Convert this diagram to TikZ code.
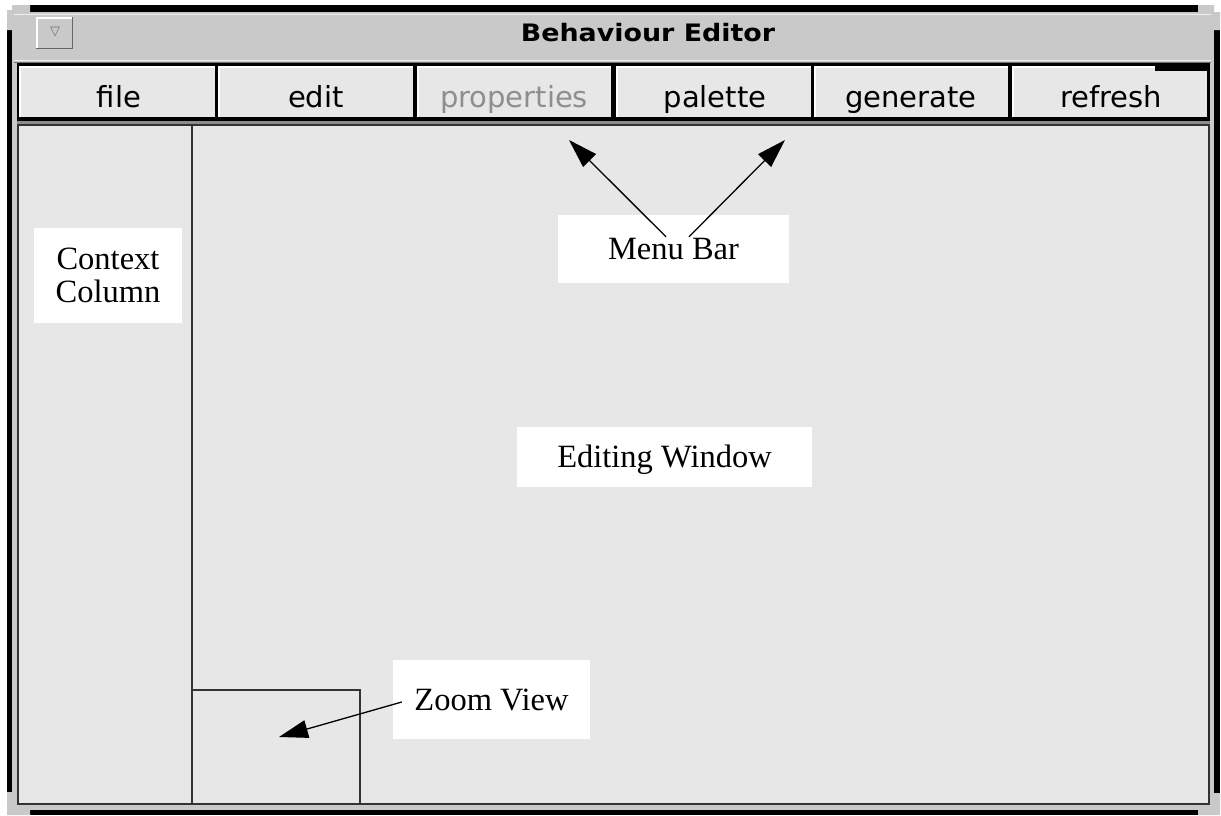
\documentclass[tikz,border=0pt]{standalone}
\usepackage{fontspec}
\setmainfont{Liberation Serif}
\newfontfamily\uifont{DejaVu Sans}
\usetikzlibrary{arrows.meta}
\definecolor{panel}{HTML}{E7E7E7}
\definecolor{chrome}{HTML}{C9C9C9}
\definecolor{edge}{HTML}{333333}
\definecolor{dimtext}{HTML}{8E8E8E}
\tikzset{
  labelbox/.style={fill=white, inner sep=0pt, align=center,
    font=\fontsize{32.5}{33}\selectfont},
  menutext/.style={anchor=base, inner sep=0pt,
    font=\uifont\fontsize{29}{30}\selectfont},
  pointer/.style={line width=1.3pt, -{Triangle[length=29pt,width=18pt]}},
  divider/.style={line width=2pt, edge},
}
\begin{document}
\begin{tikzpicture}[x=1pt,y=-1pt]
\useasboundingbox (0,0) rectangle (1221,815);
\fill[white] (0,0) rectangle (1221,815);

% window frame: black bands and grey corner pieces
\fill[black] (30,5) rectangle (1198,12);
\fill[black] (30,810) rectangle (1198,815);
\fill[black] (7,30) rectangle (12,792);
\fill[black] (1214,30) rectangle (1220,793);
\fill[chrome] (7,30) -- (7,10) -- (12,10) -- (12,5) -- (30,5) -- (30,12) -- (12,12) -- (12,30) -- cycle;
\fill[chrome] (1198,5) -- (1214,5) -- (1214,12) -- (1220,12) -- (1220,30) -- (1214,30) -- (1214,12) -- (1198,12) -- cycle;
\fill[chrome] (7,792) -- (12,792) -- (12,810) -- (30,810) -- (30,815) -- (7,815) -- cycle;
\fill[chrome] (1214,793) -- (1220,793) -- (1220,815) -- (1198,815) -- (1198,810) -- (1214,810) -- cycle;

% window body and title bar
\fill[chrome] (12,12) rectangle (1214,810);
\draw[white!70!chrome, line width=1.5pt] (14,14.5) -- (1211,14.5);
\draw[white!70!chrome, line width=1.5pt] (14,60.5) -- (1211,60.5);
\draw[black!55, line width=1pt] (14,62.5) -- (1211,62.5);

% window menu button
\fill[chrome] (36,17) rectangle (73,49);
\draw[white, line width=1.5pt] (36.75,49) -- (36.75,17.75) -- (73,17.75);
\draw[black!60, line width=1.5pt] (36,48.25) -- (72.25,48.25) -- (72.25,17);
\node[inner sep=0pt, font=\uifont\fontsize{13}{13}\selectfont, text=black!55] (wmenu) at (55,32) {▽};

\node[anchor=base, inner sep=0pt, font=\uifont\bfseries\fontsize{24}{26}\selectfont] (title) at (648,41)
  {\scalebox{1.12}[1]{Behaviour Editor}};

% menu bar
\fill[black] (17,63) rectangle (1210,121);
\foreach \xa/\xb in {19/215, 218/413, 417/611, 616/811, 814/1008, 1012/1207}{
  \fill[panel] (\xa,66) rectangle (\xb,117);
  \draw[white, line width=1.5pt] (\xa+0.75,117) -- (\xa+0.75,66.75) -- (\xb,66.75);
}
\fill[black] (1155,63) rectangle (1210,71);

\node[menutext] (mfile) at (119,107) {file};
\node[menutext] (medit) at (316,107) {edit};
\node[menutext, text=dimtext] (mprop) at (514,107) {properties};
\node[menutext] (mpal) at (715,107) {palette};
\node[menutext] (mgen) at (911,107) {generate};
\node[menutext] (mref) at (1111,107) {refresh};

% editing area
\fill[black!45] (17,121) rectangle (1210,124);
\fill[edge] (17,124) rectangle (1210,805);
\fill[panel] (19,126) rectangle (1208,803);

\draw[divider] (192,125) -- (192,804);
\draw[divider] (192,690) -| (360,804);

% callout labels
\node[labelbox, minimum width=148pt, minimum height=95pt] (ctx) at (108,275.5) {Context\\Column};
\node[labelbox, minimum width=231pt, minimum height=68pt, text height=21pt, text depth=0pt] (mb) at (673.5,249) {Menu Bar};
\node[labelbox, minimum width=295pt, minimum height=60pt, text height=21pt, text depth=0pt] (ew) at (664.5,457) {Editing Window};
\node[labelbox, minimum width=197pt, minimum height=79pt, text height=21pt, text depth=0pt] (zv) at (491.5,699.5) {Zoom View};

% callout arrows
\coordinate (tipprop) at (569,140);
\coordinate (tippal) at (785,140);
\coordinate (tipzoom) at (279,737);
\draw[pointer] ([shift={(-7.5,22)}]mb.north) -- (tipprop);
\draw[pointer] ([shift={(15.5,22)}]mb.north) -- (tippal);
\draw[pointer] ([shift={(9,2.5)}]zv.west) -- (tipzoom);
\end{tikzpicture}
\end{document}
